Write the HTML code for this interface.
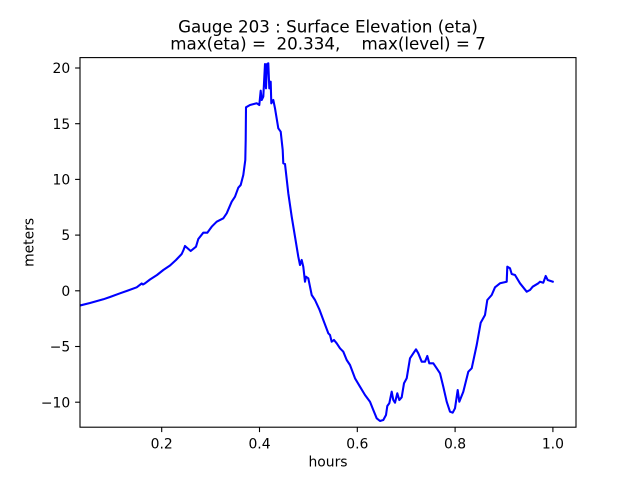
<!DOCTYPE html>
<html><head><meta charset="utf-8"><style>html,body{margin:0;padding:0;background:#fff;}svg{display:block;}text{font-family:"DejaVu Sans","Liberation Sans",sans-serif;fill:#000;}</style></head>
<body>
<svg width="640" height="480" viewBox="0 0 640 480" xmlns="http://www.w3.org/2000/svg">
<rect width="640" height="480" fill="#fff"/>
<defs><clipPath id="c"><rect x="80" y="57.6" width="496" height="369.6"/></clipPath></defs>
<polyline clip-path="url(#c)" fill="none" stroke="#0000ff" stroke-width="2.08" stroke-linejoin="round" stroke-linecap="square" points="
80,305.5 90,303 103.3,299.3 110,297 120,293.3 128,290.5 136.7,287.3 141.7,283.5 143,284.5 145,283.3 150,279.5 157,275 163.3,270 170,265.5 176,260 181.7,254 183.5,250 185,246 190.7,251 196,246.7 198.3,239 203.3,232.7 207.3,232.7 211.7,226.7 216.7,221.7 223.3,218.3 226.7,213.3 231.7,201.7 235,196.7 238.3,187.7 240.7,185 243.3,175 245.3,160 245.7,140 246,107.3 250,105 256.7,103.3 259.3,105 260.7,90.7 261.7,100 263.3,96.7 265,64 266,88.3 267,64 268.3,63.3 269.3,88.3 270.7,81.7 271.3,103.3 273.3,100 275,108.3 278.3,128.3 280.7,131.7 282.7,150 283.3,163.3 285,164 288.3,193.3 291.7,216.7 295,236.7 298.3,256.7 300,265 301.7,260 303.3,266.7 305,281.7 306,276.7 308.3,278.3 311.7,295 315,300 319.3,309.3 323.3,320 328.3,333.3 330,335 331.7,341.7 334,340 336.7,343.3 340,348.3 343.3,351.7 346.7,360 350,365 355,378.3 360,386.7 365,395 370,401.7 373.3,410 376.7,418.3 380,421 383.3,420 386,415 387.3,406 389.3,403.3 391.7,391.7 393.3,400 395,402.7 397.3,393.3 399.3,400 401.7,397.3 404,383.3 406.7,378.3 410,358.3 413.3,353.3 416,349.3 418.3,353.3 421.7,361.7 425,361.7 427.3,356 429.3,363.3 433.3,363.3 436.7,368.3 440,373.3 443.3,386.7 446.7,401.7 450,411.7 452.7,412.7 455,408.3 457.7,390 459.3,401.7 463.3,391.7 468.3,371.7 471.7,368.3 476.7,345 480.7,322.7 485,315 487.3,300 491.7,295 495,287.3 500,283.3 506.7,281.7 507.3,266.7 510,268.3 511.7,274 515,275 520,283.3 526.7,291.7 530,290 532.7,286.7 538.3,283.3 540,281.7 543.3,282.7 545.7,276 547.7,280 552.7,281.7"/>
<rect x="80" y="57.6" width="496" height="369.6" fill="none" stroke="#000" stroke-width="1.1"/>
<g stroke="#000" stroke-width="1.1">
<line x1="161.7" y1="427.2" x2="161.7" y2="432.1"/>
<line x1="259.5" y1="427.2" x2="259.5" y2="432.1"/>
<line x1="357.3" y1="427.2" x2="357.3" y2="432.1"/>
<line x1="455.1" y1="427.2" x2="455.1" y2="432.1"/>
<line x1="552.9" y1="427.2" x2="552.9" y2="432.1"/>
<line x1="75.1" y1="68" x2="80" y2="68"/>
<line x1="75.1" y1="123.7" x2="80" y2="123.7"/>
<line x1="75.1" y1="179.4" x2="80" y2="179.4"/>
<line x1="75.1" y1="235.1" x2="80" y2="235.1"/>
<line x1="75.1" y1="290.8" x2="80" y2="290.8"/>
<line x1="75.1" y1="346.5" x2="80" y2="346.5"/>
<line x1="75.1" y1="402.2" x2="80" y2="402.2"/>
</g>
<g font-size="13.9" text-anchor="middle">
<text x="161.7" y="448.3">0.2</text>
<text x="259.5" y="448.3">0.4</text>
<text x="357.3" y="448.3">0.6</text>
<text x="455.1" y="448.3">0.8</text>
<text x="552.9" y="448.3">1.0</text>
</g>
<g font-size="13.9" text-anchor="end">
<text x="70.2" y="73.1">20</text>
<text x="70.2" y="128.8">15</text>
<text x="70.2" y="184.5">10</text>
<text x="70.2" y="240.2">5</text>
<text x="70.2" y="295.9">0</text>
<text x="70.2" y="351.6">−5</text>
<text x="70.2" y="407.3">−10</text>
</g>
<text x="328" y="466.5" font-size="13.9" text-anchor="middle">hours</text>
<text transform="translate(33.5,242.4) rotate(-90)" font-size="13.9" text-anchor="middle">meters</text>
<text x="328" y="32.7" font-size="16.7" text-anchor="middle">Gauge 203 : Surface Elevation (eta)</text>
<text x="328" y="49.6" font-size="16.7" text-anchor="middle" xml:space="preserve" style="white-space:pre">max(eta) =  20.334,    max(level) = 7</text>
</svg>
</body></html>
